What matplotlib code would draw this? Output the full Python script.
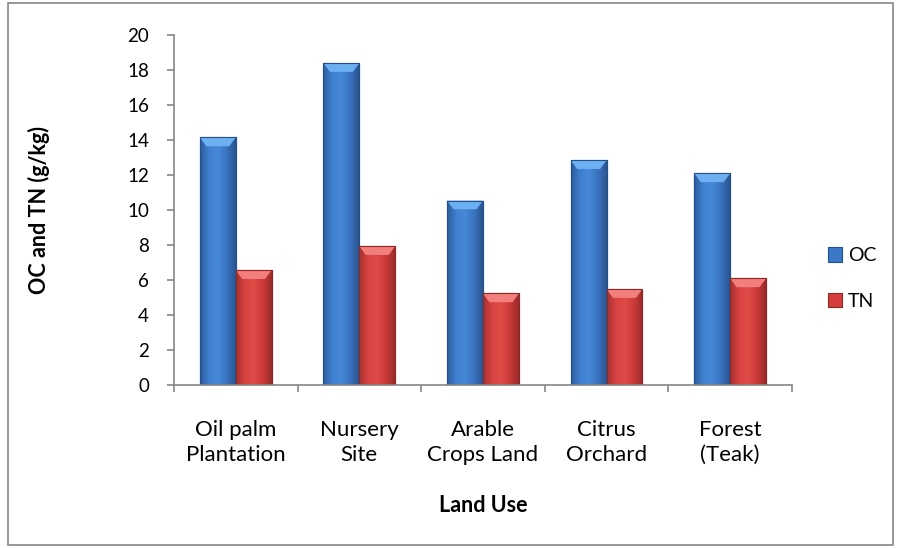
import matplotlib
matplotlib.use("Agg")
import matplotlib.pyplot as plt
import numpy as np
from matplotlib.patches import Rectangle, Polygon
from matplotlib.colors import LinearSegmentedColormap

categories = ["Oil palm\nPlantation", "Nursery\nSite", "Arable\nCrops Land", "Citrus\nOrchard", "Forest\n(Teak)"]
oc = [14.15, 18.4, 10.55, 12.85, 12.1]
tn = [6.57, 7.94, 5.24, 5.49, 6.1]
series_names = ["OC", "TN"]
yticks = [0, 2, 4, 6, 8, 10, 12, 14, 16, 18, 20]

plt.rcParams['font.family'] = ['Lato', 'DejaVu Sans']

fig = plt.figure(figsize=(9.01, 5.48), dpi=100)
ax = fig.add_axes([0.193, 0.297, 0.686, 0.639])

x = np.arange(len(categories))
w = 0.29
gray = "#868686"

blue_cmap = LinearSegmentedColormap.from_list("b", ["#2c5d9c", "#3f7fcf", "#4688d8", "#3a74c0", "#2a5590"])
red_cmap = LinearSegmentedColormap.from_list("r", ["#a83230", "#d84240", "#e04a47", "#cc3a38", "#9a2c2a"])

b1 = ax.bar(x - w/2, oc, w, color="#3b78c6", edgecolor="#24508a", linewidth=0.8, label=series_names[0], zorder=3)
b2 = ax.bar(x + w/2, tn, w, color="#d43d3b", edgecolor="#8e2826", linewidth=0.8, label=series_names[1], zorder=3)

grad = np.linspace(0, 1, 64).reshape(1, -1)
for bars, cmap, cap in ((b1, blue_cmap, "#6cb0f2"), (b2, red_cmap, "#f27f7c")):
    for r in bars:
        x0, x1, h = r.get_x(), r.get_x() + r.get_width(), r.get_height()
        im = ax.imshow(grad, extent=[x0, x1, 0, h], aspect='auto', cmap=cmap, zorder=3.5,
                       interpolation='bicubic')
        im.set_clip_path(r)
        bw = r.get_width()
        ax.add_patch(Polygon([[x0, h], [x1, h], [x1 - bw * 0.18, h - 0.5], [x0 + bw * 0.18, h - 0.5]],
                             closed=True, facecolor=cap, edgecolor="none", zorder=4))
        ax.add_patch(Rectangle((x0, 0), bw, h, facecolor="none", edgecolor=r.get_edgecolor(),
                               linewidth=0.8, zorder=4.5))

ax.set_xlim(-0.5, len(categories) - 0.5)
ax.set_ylim(0, 20)
ax.set_yticks(yticks)
ax.set_yticklabels([str(v) for v in yticks], fontsize=13.5)
ax.set_xticks(x)
ax.set_xticklabels(categories, fontsize=16, linespacing=1.3)
ax.set_xticks(np.arange(-0.5, len(categories)), minor=True)
ax.tick_params(axis='x', which='major', length=0, pad=25)
ax.tick_params(axis='x', which='minor', length=5, color=gray, width=1.2, direction='out')
ax.tick_params(axis='y', length=5, color=gray, width=1.2, direction='out', pad=13)

for s in ("top", "right"):
    ax.spines[s].set_visible(False)
for s in ("left", "bottom"):
    ax.spines[s].set_color(gray)
    ax.spines[s].set_linewidth(1.2)
    ax.spines[s].set_zorder(5)

ax.set_ylabel("OC and TN (g/kg)", fontsize=15.5, fontweight="bold")
ax.yaxis.set_label_coords(-0.2, 0.5)
ax.set_xlabel("Land Use", fontsize=15.5, fontweight="bold", labelpad=22)

leg = ax.legend(loc="center left", bbox_to_anchor=(1.045, 0.305), frameon=False,
                fontsize=14, handlelength=0.75, handleheight=0.75, labelspacing=1.45,
                handletextpad=0.3, borderaxespad=0.0)

# outer chart border
fig.patches.append(Rectangle((0.009, 0.006), 0.982, 0.988, transform=fig.transFigure,
                             fill=False, edgecolor=gray, linewidth=1.2))

fig.savefig("out.png", dpi=100)
